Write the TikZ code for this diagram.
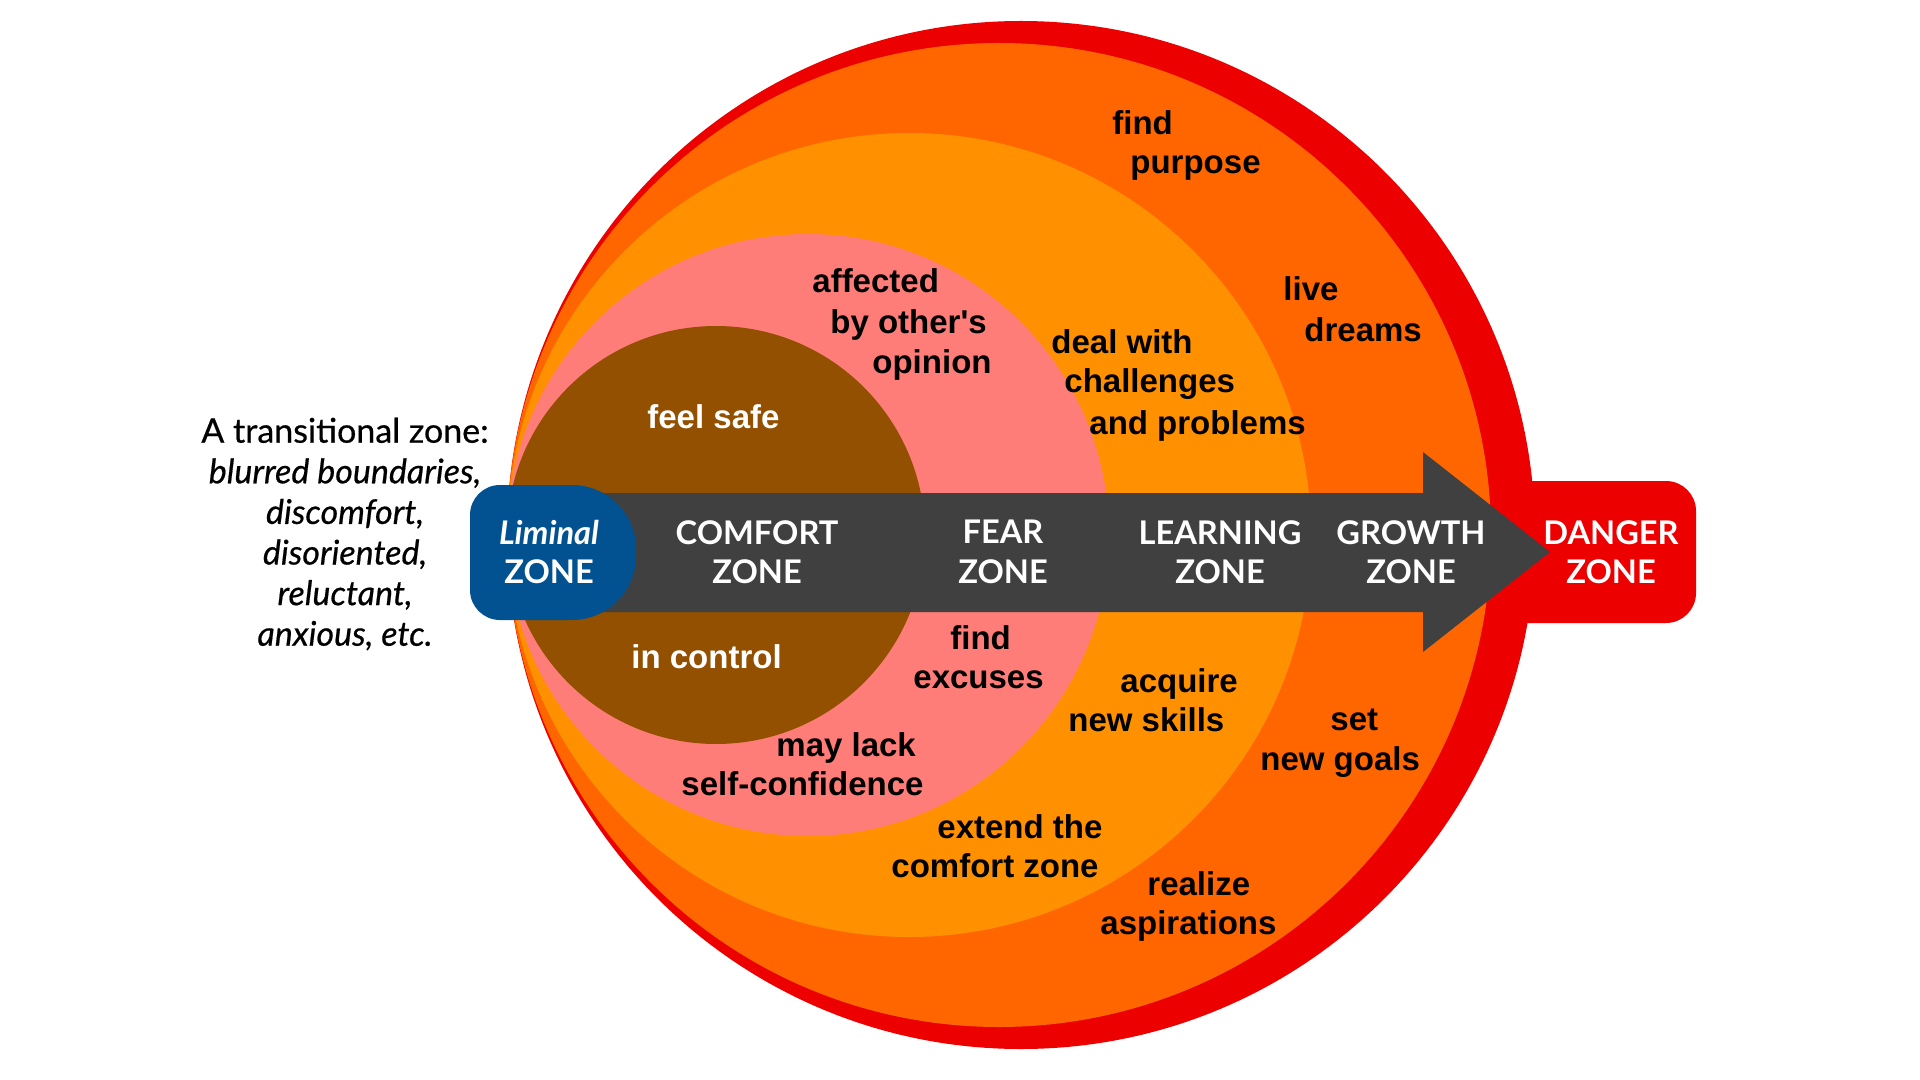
\documentclass[tikz,border=0pt]{standalone}
\usepackage{fontspec}
\setmainfont{Lato}
\newfontfamily\lblfont{Liberation Sans}
\newfontfamily\capfont{Lato}[FakeBold=0.5]
\usetikzlibrary{positioning}

\definecolor{dangerred}{RGB}{236,0,0}
\definecolor{growthorange}{RGB}{255,102,0}
\definecolor{learnorange}{RGB}{255,145,0}
\definecolor{fearpink}{RGB}{255,125,120}
\definecolor{comfortbrown}{RGB}{146,80,0}
\definecolor{arrowgrey}{RGB}{64,64,64}
\definecolor{liminalblue}{RGB}{2,82,145}

\tikzset{
  zone/.style={text=white, align=center, inner sep=0pt,
    font=\bfseries\fontsize{16.3}{19.7}\selectfont},
  lbl/.style={anchor=base west, inner sep=0pt,
    font=\lblfont\bfseries\fontsize{16.5}{20}\selectfont},
  wlbl/.style={lbl, text=white},
}

\begin{document}
\begin{tikzpicture}[x=0.5pt, y=-0.5pt]
  \useasboundingbox (0,0) rectangle (1920,1080);
  \fill[white] (0,0) rectangle (1920,1080);

  % zones, outermost first
  \fill[dangerred, rounded corners=15pt] (1400,481) rectangle (1696,623);
  \fill[dangerred] (1021,535) circle[radius=514];
  \fill[growthorange] (999,535) circle[radius=492];
  \fill[learnorange] (909,535) circle[radius=402];
  \fill[fearpink] (808,535) circle[radius=301];
  \fill[comfortbrown] (716,535) circle[radius=209];

  % big arrow
  \fill[arrowgrey] (560,493) -- (1423,493) -- (1423,452) -- (1550,552)
    -- (1423,652) -- (1423,612) -- (560,612) -- cycle;

  % liminal tab
  \fill[liminalblue] (470,552) [rounded corners=15pt] -- (470,485)
    [rounded corners=32pt] -- (636,485) -- (636,620)
    [rounded corners=15pt] -- (470,620) -- cycle;

  \node[zone] (liminal) at (549,552) {\itshape Liminal\\ZONE};
  \node[zone] (comfort) at (757,552) {COMFORT\\ZONE};
  \node[zone] (fear) at (1003,552) {FEAR\\ZONE};
  \node[zone] (learning) at (1220,552) {LEARNING\\ZONE};
  \node[zone] (growth) at (1411,552) {GROWTH\\ZONE};
  \node[zone] (danger) at (1611,552) {DANGER\\ZONE};

  \node[align=center, inner sep=0pt, font=\capfont\fontsize{17}{20.3}\selectfont]
    (transit) at (345,534) {A transitional zone:\\ \itshape blurred boundaries,\\
    \itshape discomfort,\\ \itshape disoriented,\\ \itshape reluctant,\\
    \itshape anxious, etc.};

  % comfort zone
  \node[wlbl] (safe) at (647,428) {feel safe};
  \node[wlbl] (control) at (631,668) {in control};

  % fear zone
  \node[lbl] (affected) at (812,293) {affected};
  \node[lbl] (byother) at (830,334) {by other's};
  \node[lbl] (opinion) at (872,373) {opinion};
  \node[lbl] (findex) at (950,649) {find};
  \node[lbl] (excuses) at (913,688) {excuses};
  \node[lbl] (maylack) at (776,756) {may lack};
  \node[lbl] (selfconf) at (681,795) {self-confidence};

  % learning zone
  \node[lbl] (dealwith) at (1051,354) {deal with};
  \node[lbl] (challenges) at (1064,393) {challenges};
  \node[lbl] (problems) at (1089,434) {and problems};
  \node[lbl] (acquire) at (1120,692) {acquire};
  \node[lbl] (skills) at (1068,731) {new skills};
  \node[lbl] (extend) at (937,838) {extend the};
  \node[lbl] (comfortz) at (891,877) {comfort zone};

  % growth zone
  \node[lbl] (findpur) at (1112,135) {find};
  \node[lbl] (purpose) at (1130,174) {purpose};
  \node[lbl] (live) at (1283,301) {live};
  \node[lbl] (dreams) at (1304,342) {dreams};
  \node[lbl] (set) at (1330,730) {set};
  \node[lbl] (goals) at (1260,770) {new goals};
  \node[lbl] (realize) at (1147,895) {realize};
  \node[lbl] (aspire) at (1100,934) {aspirations};
\end{tikzpicture}
\end{document}
